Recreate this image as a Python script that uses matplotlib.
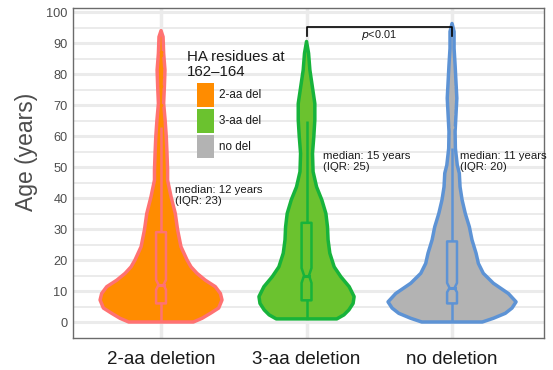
"""Violin + notched box plot of age by HA 162-164 deletion type."""

import matplotlib

matplotlib.use("Agg")
import matplotlib.pyplot as plt
import numpy as np
from matplotlib.patches import Polygon, Rectangle

plt.rcParams["font.family"] = ["Liberation Sans", "DejaVu Sans"]

# ---- data -----------------------------------------------------------------
groups = ["2-aa deletion", "3-aa deletion", "no deletion"]
legend_labels = ["2-aa del", "3-aa del", "no del"]

# violin outlines: ages and half widths (x units)
ages_2aa = [0, 1.2, 2.8, 4.5, 7.1, 9.2, 11.4, 13.5, 15.7, 17.8, 20, 24.3, 29.7, 35,
            40.4, 45.8, 49, 54.4, 59.8, 65.2, 70.5, 75.9, 81.3, 86.7, 92, 94]
width_2aa = [0.222, 0.282, 0.339, 0.396, 0.419, 0.408, 0.373, 0.304, 0.247, 0.206,
             0.179, 0.137, 0.114, 0.098, 0.069, 0.045, 0.045, 0.041, 0.036, 0.028,
             0.018, 0.023, 0.027, 0.018, 0.014, 0.0]

ages_3aa = [1, 2.3, 3.9, 6, 8.2, 11.4, 14.6, 17.8, 22.2, 26.5, 30.7, 35, 39.4, 43.6,
            48.5, 54.4, 59.8, 65.2, 70.5, 75.9, 81.3, 86.7, 90.5]
width_3aa = [0.208, 0.257, 0.291, 0.320, 0.327, 0.293, 0.236, 0.190, 0.160, 0.148,
             0.144, 0.133, 0.105, 0.069, 0.045, 0.041, 0.050, 0.057, 0.057, 0.040,
             0.023, 0.014, 0.0]

ages_nodel = [0, 1.2, 2.8, 4.5, 6.5, 9.2, 12.5, 15.7, 18.9, 22.2, 26.5, 30.7, 35,
              39.4, 43.6, 48, 50.6, 56, 61.4, 66.8, 72.2, 77.5, 82.9, 88.3, 93.7, 96.3]
width_nodel = [0.208, 0.284, 0.366, 0.412, 0.44, 0.387, 0.284, 0.215, 0.181, 0.165,
               0.137, 0.119, 0.091, 0.069, 0.055, 0.050, 0.036, 0.023, 0.021, 0.027,
               0.033, 0.027, 0.021, 0.014, 0.014, 0.0]

# box plot summaries
q1 = [6, 7, 6]
median = [12, 15, 11]
q3 = [29, 32, 26]
notch_lo = [10.4, 12.6, 9.6]
notch_hi = [13.6, 17.4, 12.6]
whisker_lo = [0, 1, 0]
whisker_hi = [63, 65, 56]
iqr = [23, 25, 20]
outliers_2aa = [65, 70, 76, 79, 82, 86, 87]
outliers_3aa = [73]
outliers_nodel = [63, 67, 69, 71, 73, 76]

p_text = "$p$<0.01"

# ---- styling ----------------------------------------------------------------
fills = ["#FF8C00", "#6BC22F", "#B3B3B3"]
edges = ["#FF7272", "#17B33B", "#5D93D5"]
grid_color = "#EBEBEB"

fig = plt.figure(figsize=(5.53, 3.70), dpi=100)
ax = fig.add_axes([73 / 553, 32 / 370, 471 / 553, 330 / 370])
ax.set_xlim(0.395, 3.632)
ax.set_ylim(-5.16, 101.3)

for y in range(0, 101, 10):
    ax.axhline(y, color=grid_color, lw=2.2, zorder=0)
for y in range(5, 100, 10):
    ax.axhline(y, color=grid_color, lw=1.4, zorder=0)
positions = np.arange(1, len(groups) + 1)
for x in positions:
    ax.axvline(x, color=grid_color, lw=2.5, zorder=0)

profiles = [(ages_2aa, width_2aa), (ages_3aa, width_3aa), (ages_nodel, width_nodel)]
outliers = [outliers_2aa, outliers_3aa, outliers_nodel]
box_half = 0.034

for i, x in enumerate(positions):
    ages, widths = np.array(profiles[i][0]), np.array(profiles[i][1])
    xs = np.concatenate([x + widths, (x - widths)[::-1]])
    ys = np.concatenate([ages, ages[::-1]])
    ax.add_patch(Polygon(np.column_stack([xs, ys]), closed=True, facecolor=fills[i],
                         edgecolor=edges[i], lw=2.5, joinstyle="round", zorder=2))

    ax.plot([x, x], [whisker_lo[i], q1[i]], color=edges[i], lw=1.8, zorder=3,
            solid_capstyle="butt")
    ax.plot([x, x], [q3[i], whisker_hi[i]], color=edges[i], lw=1.8, zorder=3,
            solid_capstyle="butt")

    w, n = box_half, box_half / 2
    box = [(x - w, q1[i]), (x - w, notch_lo[i]), (x - n, median[i]), (x - w, notch_hi[i]),
           (x - w, q3[i]), (x + w, q3[i]), (x + w, notch_hi[i]), (x + n, median[i]),
           (x + w, notch_lo[i]), (x + w, q1[i])]
    ax.add_patch(Polygon(box, closed=True, facecolor=fills[i], edgecolor=edges[i],
                         lw=1.8, joinstyle="round", zorder=4))
    ax.plot([x - n, x + n], [median[i], median[i]], color=edges[i], lw=2.2, zorder=5)

    ax.plot([x] * len(outliers[i]), outliers[i], "o", ms=2.6, color=fills[i],
            mec="none", zorder=5)

# median / IQR annotations
note_xy = [(1.096, 40.8), (2.115, 51.8), (3.052, 51.8)]
for i, (tx, ty) in enumerate(note_xy):
    ax.text(tx, ty, f"median: {median[i]} years\n(IQR: {iqr[i]})", fontsize=8.2,
            color="#1A1A1A", ha="left", va="center", linespacing=1.05, zorder=6)

# significance bracket
ax.plot([2, 2, 3, 3], [92.3, 95.3, 95.3, 92.3], color="black", lw=1.2, zorder=6)
ax.text(2.5, 92.6, p_text, fontsize=7.8, ha="center", va="center", color="#1A1A1A")

# legend built by hand to match the layout
ax.text(1.177, 84.3, "HA residues at", fontsize=10.8, ha="left", va="baseline",
        color="#1A1A1A")
ax.text(1.177, 79.4, "162\u2013164", fontsize=10.8, ha="left", va="baseline",
        color="#1A1A1A")
key_spans = [(69.45, 77.2), (61.1, 68.7), (52.8, 60.3)]
for i, (lo, hi) in enumerate(key_spans):
    ax.add_patch(Rectangle((1.245, lo), 0.119, hi - lo, facecolor=fills[i],
                           edgecolor="none", zorder=6))
    ax.text(1.401, (lo + hi) / 2, legend_labels[i], fontsize=8.4, ha="left",
            va="center", color="#1A1A1A", zorder=6)

ax.set_xticks(positions)
ax.set_xticklabels(groups)
ax.set_yticks(range(0, 101, 10))
ax.tick_params(axis="both", length=0)
ax.tick_params(axis="y", labelsize=9.2, labelcolor="#4D4D4D", pad=4)
ax.tick_params(axis="x", labelsize=13.5, labelcolor="#1A1A1A", pad=9)

ax.set_ylabel("Age (years)", fontsize=16.5, color="#4D4D4D")
ax.yaxis.set_label_coords(-0.075, 0.565)

for spine in ax.spines.values():
    spine.set_color("#6B6B6B")
    spine.set_linewidth(1.0)

fig.savefig("out.png", dpi=100)
